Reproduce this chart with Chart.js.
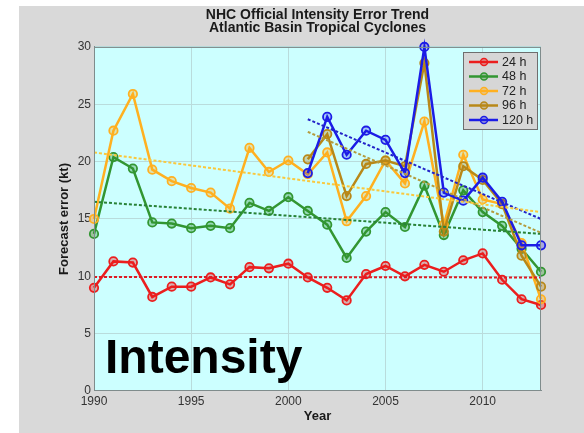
<!DOCTYPE html>
<html>
<head>
<meta charset="utf-8">
<script src="https://cdn.jsdelivr.net/npm/chart.js@4"></script>
<style>
    html, body { margin: 0; padding: 0; background: #d9d9d9; overflow: hidden; }
    #chartIntensity { display: block; }
</style>
</head>
<body>
<canvas id="chartIntensity" width="584" height="433"></canvas>
<script>
const years = [1990, 1991, 1992, 1993, 1994, 1995, 1996, 1997, 1998, 1999, 2000, 2001,
    2002, 2003, 2004, 2005, 2006, 2007, 2008, 2009, 2010, 2011, 2012, 2013];
const xTicks = [1990, 1995, 2000, 2005, 2010];
const yTicks = [0, 5, 10, 15, 20, 25, 30];

const error24 = [9.0, 11.3, 11.2, 8.2, 9.1, 9.1, 9.9, 9.3, 10.8, 10.7, 11.1, 9.9,
    9.0, 7.9, 10.2, 10.9, 10.0, 11.0, 10.4, 11.4, 12.0, 9.7, 8.0, 7.5];
const error48 = [13.7, 20.4, 19.4, 14.7, 14.6, 14.2, 14.4, 14.2, 16.4, 15.7, 16.9, 15.7,
    14.5, 11.6, 13.9, 15.6, 14.3, 17.9, 13.6, 17.5, 15.6, 14.4, 12.4, 10.4];
const error72 = [15.0, 22.7, 25.9, 19.3, 18.3, 17.7, 17.3, 15.9, 21.2, 19.1, 20.1, 18.9,
    20.8, 14.8, 17.0, 20.1, 18.1, 23.5, 14.5, 20.6, 16.7, 16.3, 12.9, 8.0];
const error96 = [null, null, null, null, null, null, null, null, null, null, null, 20.2,
    22.4, 17.0, 19.8, 20.1, 19.6, 28.6, 13.9, 19.6, 18.4, 16.3, 11.8, 9.1];
const error120 = [null, null, null, null, null, null, null, null, null, null, null, 19.0,
    23.9, 20.6, 22.7, 21.9, 19.0, 30.0, 17.3, 16.6, 18.6, 16.5, 12.7, 12.7];

// trend lines: [start year, end year] and [start value, end value]
const trendYears24 = [1990, 2013];
const trend24 = [9.95, 9.9];
const trendYears48 = [1990, 2013];
const trend48 = [16.5, 13.7];
const trendYears72 = [1990, 2013];
const trend72 = [20.8, 15.6];
const trendYears96 = [2001, 2013];
const trend96 = [22.6, 13.8];
const trendYears120 = [2001, 2013];
const trend120 = [23.7, 15.0];

const seriesLabels = ['24 h', '48 h', '72 h', '96 h', '120 h'];
const seriesColors = ['rgb(235,30,30)', 'rgb(50,150,50)', 'rgb(255,176,32)', 'rgb(184,136,24)', 'rgb(28,28,230)'];
const markerFills = ['rgba(235,30,30,0.35)', 'rgba(50,150,50,0.35)', 'rgba(255,176,32,0.35)', 'rgba(184,136,24,0.35)', 'rgba(28,28,230,0.25)'];
const trendColors = ['rgb(225,25,35)', 'rgb(40,130,55)', 'rgb(250,200,60)', 'rgb(180,155,60)', 'rgb(35,35,200)'];

const seriesValues = [error24, error48, error72, error96, error120];
const trendValues = [trend24, trend48, trend72, trend96, trend120];
const trendYearList = [trendYears24, trendYears48, trendYears72, trendYears96, trendYears120];

function toPoints(xs, ys) {
    let points = [];
    for (let i = 0; i < xs.length; i++) {
        points.push({x: xs[i], y: ys[i]});
    }
    return points;
}

let datasets = [];
for (let i = 0; i < seriesValues.length; i++) {
    datasets.push({
        label: seriesLabels[i],
        data: toPoints(years, seriesValues[i]),
        borderColor: seriesColors[i],
        backgroundColor: markerFills[i],
        pointBackgroundColor: markerFills[i],
        pointBorderColor: seriesColors[i],
        borderWidth: 2.5,
        pointRadius: 4.2,
        pointBorderWidth: 1.8,
        spanGaps: false,
        clip: false,
        order: 10 - i
    });
}
for (let i = 0; i < trendValues.length; i++) {
    datasets.push({
        label: seriesLabels[i] + ' trend',
        data: toPoints(trendYearList[i], trendValues[i]),
        borderColor: trendColors[i],
        borderWidth: 2,
        borderDash: [3, 2],
        pointRadius: 0,
        clip: false,
        order: 0
    });
}

const backdropPlugin = {
    id: 'backdrop',
    beforeDraw(chart) {
        const ctx = chart.ctx;
        const area = chart.chartArea;
        ctx.save();
        ctx.fillStyle = '#ffffff';
        ctx.fillRect(0, 0, chart.width, chart.height);
        ctx.fillStyle = '#d9d9d9';
        ctx.fillRect(19, 6, chart.width - 19, chart.height - 6);
        ctx.fillStyle = '#ccffff';
        ctx.fillRect(area.left, area.top, area.right - area.left, area.bottom - area.top);
        ctx.restore();
    },
    afterDraw(chart) {
        const ctx = chart.ctx;
        const area = chart.chartArea;
        ctx.save();
        // frame on all sides
        ctx.strokeStyle = '#7f8c8c';
        ctx.lineWidth = 1;
        ctx.strokeRect(area.left + 0.5, area.top + 0.5, area.right - area.left - 1, area.bottom - area.top - 1);

        // big label
        ctx.fillStyle = '#000000';
        ctx.font = 'bold 48px "Liberation Sans", Arial, sans-serif';
        ctx.textBaseline = 'alphabetic';
        ctx.textAlign = 'left';
        ctx.fillText('Intensity', area.left + 11, 373);

        // legend box in the upper right corner
        const boxLeft = 463, boxTop = 52, boxWidth = 74, boxHeight = 77;
        ctx.fillStyle = '#d6d6d6';
        ctx.fillRect(boxLeft, boxTop, boxWidth, boxHeight);
        ctx.strokeStyle = '#6e6e6e';
        ctx.strokeRect(boxLeft + 0.5, boxTop + 0.5, boxWidth, boxHeight);
        ctx.font = '12.5px "Liberation Sans", Arial, sans-serif';
        ctx.textBaseline = 'middle';
        for (let i = 0; i < seriesLabels.length; i++) {
            const rowY = boxTop + 10 + i * 14.5;
            ctx.strokeStyle = seriesColors[i];
            ctx.lineWidth = 2.5;
            ctx.beginPath();
            ctx.moveTo(boxLeft + 6, rowY);
            ctx.lineTo(boxLeft + 35, rowY);
            ctx.stroke();
            ctx.lineWidth = 1.5;
            ctx.fillStyle = markerFills[i];
            ctx.beginPath();
            ctx.arc(boxLeft + 21, rowY, 3.5, 0, Math.PI * 2);
            ctx.fill();
            ctx.stroke();
            ctx.fillStyle = '#222222';
            ctx.fillText(seriesLabels[i], boxLeft + 39, rowY + 0.5);
        }
        ctx.restore();
    }
};

const chartElement = document.getElementById('chartIntensity');
const intensityChart = new Chart(chartElement, {
    type: 'line',
    data: { datasets: datasets },
    options: {
        responsive: false,
        animation: false,
        events: [],
        layout: {
            padding: { left: 19, right: 43, top: 0, bottom: 0 }
        },
        plugins: {
            legend: { display: false },
            tooltip: { enabled: false },
            title: {
                display: true,
                fullSize: false,
                text: ['NHC Official Intensity Error Trend', 'Atlantic Basin Tropical Cyclones'],
                color: '#1a1a1a',
                font: { family: '"Liberation Sans", Arial, sans-serif', size: 14, weight: 'bold', lineHeight: 0.92 },
                padding: { top: 8.5, bottom: 12.7 }
            }
        },
        scales: {
            x: {
                type: 'linear',
                min: 1990,
                max: 2013,
                afterFit: function (scale) { scale.height = 42; },
                afterBuildTicks: function (scale) {
                    scale.ticks = xTicks.map(v => ({ value: v }));
                },
                ticks: {
                    color: '#333333',
                    padding: 3,
                    maxRotation: 0,
                    font: { family: '"Liberation Sans", Arial, sans-serif', size: 12 },
                    callback: function (value) { return String(value); }
                },
                grid: { color: '#b9dcdc', lineWidth: 1, drawTicks: false },
                border: { color: '#7f8c8c' },
                title: {
                    display: true,
                    text: 'Year',
                    color: '#1a1a1a',
                    font: { family: '"Liberation Sans", Arial, sans-serif', size: 13, weight: 'bold' },
                    padding: { top: 0, bottom: 9 }
                }
            },
            y: {
                min: 0,
                max: 30,
                afterFit: function (scale) { scale.width = 75; },
                afterBuildTicks: function (scale) {
                    scale.ticks = yTicks.map(v => ({ value: v }));
                },
                ticks: {
                    color: '#333333',
                    padding: 3,
                    font: { family: '"Liberation Sans", Arial, sans-serif', size: 12 }
                },
                grid: { color: '#b9dcdc', lineWidth: 1, drawTicks: false },
                border: { color: '#7f8c8c' },
                title: {
                    display: true,
                    text: 'Forecast error (kt)',
                    color: '#1a1a1a',
                    font: { family: '"Liberation Sans", Arial, sans-serif', size: 13, weight: 'bold' },
                    padding: { top: 38, bottom: 0 }
                }
            }
        }
    },
    plugins: [backdropPlugin]
});
</script>
</body>
</html>
